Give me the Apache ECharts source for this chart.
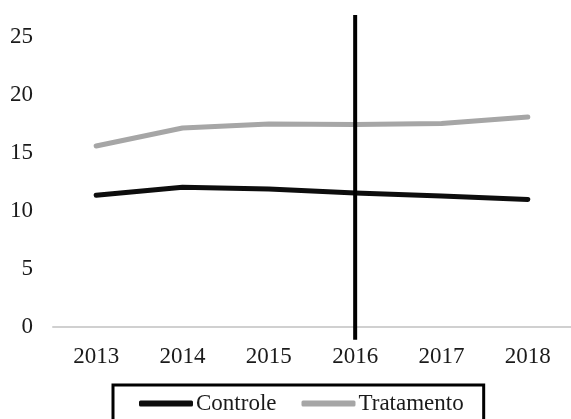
<!DOCTYPE html>
<html>
<head>
<meta charset="utf-8">
<script src="https://cdn.jsdelivr.net/npm/echarts@6/dist/echarts.min.js"></script>
<style>
  html, body { margin: 0; padding: 0; background: #fff; }
  #chart { width: 571px; height: 419px; }
</style>
</head>
<body>
<div id="chart"></div>
<script>
// anos
var years = ['2013', '2014', '2015', '2016', '2017', '2018']
// series
var controle = [11.35, 12.05, 11.9, 11.55, 11.3, 11.0]
var tratamento = [15.6, 17.15, 17.5, 17.45, 17.55, 18.1]
// linha vertical em 2016
var markerYear = '2016'
var markerRange = [26.9, -1.1]
var yTicks = [0, 5, 10, 15, 20, 25]

var font = 'Liberation Serif'
var myChart = echarts.init(document.getElementById('chart'))

var option = {
  animation: false,
  grid: {
    left: 53,
    top: 37,
    bottom: 92,
    width: 522
  },
  legend: {
    data: ['Controle', 'Tratamento'],
    left: 113,
    top: 385,
    padding: [7, 20, 12, 26],
    borderColor: '#000',
    borderWidth: 3,
    itemGap: 25,
    itemWidth: 54,
    itemHeight: 6,
    icon: 'roundRect',
    textStyle: {
      fontFamily: font,
      fontSize: 23,
      color: '#1a1a1a',
      padding: [0, 0, 0, -2]
    }
  },
  xAxis: {
    type: 'category',
    data: years,
    boundaryGap: true,
    axisLine: {
      show: true,
      lineStyle: { color: '#d0d0d0', width: 2 }
    },
    axisTick: { show: false },
    axisLabel: {
      fontFamily: font,
      fontSize: 23,
      color: '#1a1a1a',
      margin: 18
    },
    splitLine: { show: false }
  },
  yAxis: {
    type: 'value',
    min: yTicks[0],
    max: yTicks[yTicks.length - 1],
    interval: 5,
    axisLine: { show: false },
    axisTick: { show: false },
    splitLine: { show: false },
    axisLabel: {
      fontFamily: font,
      fontSize: 23,
      color: '#1a1a1a',
      margin: 20
    }
  },
  series: [
    {
      name: 'Controle',
      type: 'line',
      data: controle,
      symbol: 'none',
      color: '#0d0d0d',
      lineStyle: { color: '#0d0d0d', width: 5, cap: 'round', join: 'round' }
    },
    {
      name: 'Tratamento',
      type: 'line',
      data: tratamento,
      symbol: 'none',
      color: '#a6a6a6',
      lineStyle: { color: '#a6a6a6', width: 5, cap: 'round', join: 'round' }
    },
    {
      //linha vertical
      name: 'marcador',
      type: 'line',
      clip: false,
      symbol: 'none',
      data: [[markerYear, markerRange[0]], [markerYear, markerRange[1]]],
      lineStyle: { color: '#000', width: 4 },
      z: 5
    }
  ]
}

myChart.setOption(option)
</script>
</body>
</html>
